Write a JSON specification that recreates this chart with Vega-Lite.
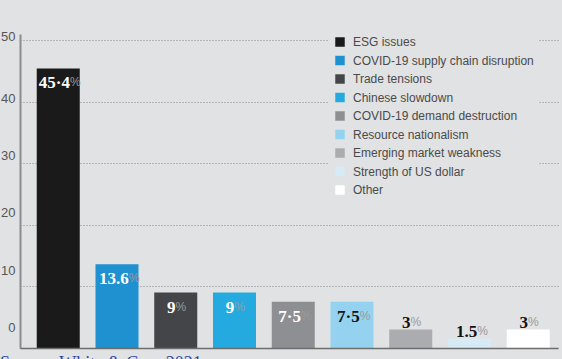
{
  "$schema": "https://vega.github.io/schema/vega-lite/v6.json",
  "width": 538,
  "height": 314,
  "autosize": {"type": "none"},
  "padding": {"left": 20, "top": 34, "right": 4, "bottom": 30},
  "background": "#e1e2e4",
  "title": {
    "text": "Source: White & Case 2021",
    "orient": "bottom",
    "anchor": "start",
    "frame": "group",
    "dx": -20,
    "offset": 7,
    "baseline": "top",
    "font": "Liberation Serif",
    "fontSize": 18,
    "fontWeight": "normal",
    "color": "#2747a0"
  },
  "data": {
    "values": [
      {"cat": "ESG issues", "value": 45.4, "num": "45·4"},
      {"cat": "COVID-19 supply chain disruption", "value": 13.6, "num": "13.6"},
      {"cat": "Trade tensions", "value": 9, "num": "9"},
      {"cat": "Chinese slowdown", "value": 9, "num": "9"},
      {"cat": "COVID-19 demand destruction", "value": 7.5, "num": "7·5"},
      {"cat": "Resource nationalism", "value": 7.5, "num": "7·5"},
      {"cat": "Emerging market weakness", "value": 3, "num": "3"},
      {"cat": "Strength of US dollar", "value": 1.5, "num": "1.5"},
      {"cat": "Other", "value": 3, "num": "3"}
    ]
  },
  "encoding": {
    "x": {
      "field": "cat",
      "type": "nominal",
      "sort": null,
      "scale": {"paddingInner": 0.268, "paddingOuter": 0.2126, "align": 0.67},
      "axis": {"title": null, "labels": false, "ticks": false, "grid": false, "domainColor": "#6d6d6d", "domainWidth": 1.5, "zindex": 1}
    },
    "y": {
      "field": "value",
      "type": "quantitative",
      "scale": {"domain": [0, 51], "nice": false, "zero": true},
      "axis": {
        "title": null,
        "values": [0, 10, 20, 30, 40, 50],
        "ticks": false,
        "domainColor": "#8c8c8c",
        "domainWidth": 2,
        "labelPadding": 5,
        "labelFont": "Liberation Sans",
        "labelFontSize": 13,
        "labelColor": "#555555",
        "labelOverlap": false,
        "labelOffset": {
          "condition": [
            {"test": "datum.value === 0", "value": -21},
            {"test": "datum.value === 10", "value": -16},
            {"test": "datum.value === 20", "value": -12},
            {"test": "datum.value === 30", "value": -8}
          ],
          "value": -3.5
        },
        "grid": true,
        "gridColor": "#8a8a8a",
        "gridDash": [1, 2],
        "gridWidth": 1
      }
    }
  },
  "layer": [
    {
      "mark": {"type": "bar"},
      "encoding": {
        "color": {
          "field": "cat",
          "type": "nominal",
          "sort": null,
          "scale": {
            "domain": ["ESG issues", "COVID-19 supply chain disruption", "Trade tensions", "Chinese slowdown", "COVID-19 demand destruction", "Resource nationalism", "Emerging market weakness", "Strength of US dollar", "Other"],
            "range": ["#1b1a1b", "#2091d0", "#444548", "#25aadf", "#8e8f92", "#95d2ef", "#abacaf", "#d6ebf5", "#ffffff"]
          },
          "legend": {
            "title": null,
            "orient": "none",
            "legendX": 309,
            "legendY": -3,
            "fillColor": "#e1e2e4",
            "padding": 5,
            "symbolType": "square",
            "symbolSize": 90,
            "symbolStrokeWidth": 0,
            "symbolOpacity": 1,
            "labelFont": "Liberation Sans",
            "labelFontSize": 12,
            "labelColor": "#4a4a4a",
            "labelOffset": 7,
            "rowPadding": 6.5,
            "labelLimit": 300
          }
        }
      }
    },
    {
      "transform": [{"filter": "datum.value > 5"}],
      "mark": {"type": "text", "align": "right", "baseline": "alphabetic", "dy": 20, "dx": {"expr": "(length(datum.num)*8-8.5)/2"}, "font": "Liberation Serif", "fontWeight": "bold", "fontSize": 17},
      "encoding": {
        "text": {"field": "num"},
        "color": {"condition": {"test": "datum.cat === 'Resource nationalism'", "value": "#111111"}, "value": "#ffffff"}
      }
    },
    {
      "transform": [{"filter": "datum.value > 5"}],
      "mark": {"type": "text", "align": "left", "baseline": "alphabetic", "dy": 18, "dx": {"expr": "(length(datum.num)*8-8.5)/2"}, "font": "Liberation Sans", "fontSize": 12, "color": "#9a9a9a"},
      "encoding": {"text": {"value": "%"}}
    },
    {
      "transform": [{"filter": "datum.value < 5"}],
      "mark": {"type": "text", "align": "right", "baseline": "alphabetic", "dy": -2, "dx": {"expr": "(length(datum.num)*8-8.5)/2"}, "font": "Liberation Serif", "fontWeight": "bold", "fontSize": 17, "color": "#111111"},
      "encoding": {"text": {"field": "num"}}
    },
    {
      "transform": [{"filter": "datum.value < 5"}],
      "mark": {"type": "text", "align": "left", "baseline": "alphabetic", "dy": -4, "dx": {"expr": "(length(datum.num)*8-8.5)/2"}, "font": "Liberation Sans", "fontSize": 12, "color": "#9a9a9a"},
      "encoding": {"text": {"value": "%"}}
    }
  ],
  "config": {"view": {"stroke": null}}
}
